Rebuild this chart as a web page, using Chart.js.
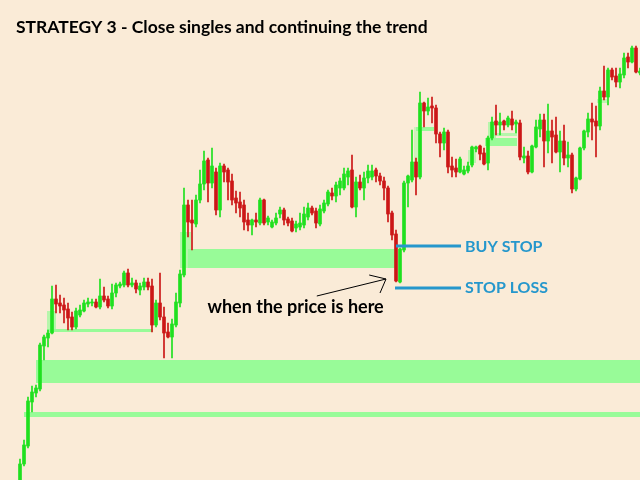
<!DOCTYPE html>
<html>
<head>
<meta charset="utf-8">
<script src="https://cdn.jsdelivr.net/npm/chart.js@4.4.1/dist/chart.umd.min.js"></script>
<style>
  html, body { margin: 0; padding: 0; background: #faebd7; }
  canvas { display: block; }
</style>
</head>
<body>
<canvas id="chart" width="640" height="480"></canvas>
<script>
// candle prices (points), one per bar, left to right
const opens = [-12,16,34,78,87,91,134,142,147,181,177,175,171,163,153,165,169,176,177,178,
  173,184,181,174,187,194,195,207,195,197,190,193,198,194,155,177,163,148,143,155,
  177,205,275,260,256,280,296,320,297,308,270,314,310,299,282,278,275,260,255,260,
  257,280,258,253,257,266,270,261,259,252,253,255,263,272,269,256,269,276,287,284,
  292,292,303,310,273,298,292,302,303,310,304,299,292,267,246,198,230,297,300,318,
  303,377,369,374,372,346,337,348,314,312,308,306,309,315,331,334,327,317,342,359,
  355,359,355,361,356,357,322,324,308,333,351,360,339,349,345,328,339,322,325,291,
  301,332,348,361,359,354,389,383,410,404,398,405,423,418,432,407];
const highs = [21,40,83,94,95,137,145,150,194,195,185,182,177,168,172,175,180,182,181,181,
  201,193,184,196,197,198,209,211,202,200,197,202,202,201,180,207,173,157,161,187,
  210,292,280,280,285,310,329,322,332,312,317,316,312,306,289,288,280,267,261,267,
  282,281,264,260,267,273,272,263,262,259,267,273,277,274,272,275,280,290,292,298,
  302,312,312,325,303,305,308,315,315,312,307,303,294,269,250,232,299,305,350,322,
  388,378,382,383,375,348,352,350,323,321,323,314,318,334,334,335,332,344,363,375,
  367,360,364,369,360,360,333,329,335,360,366,366,376,360,363,349,355,338,327,303,
  333,350,367,377,374,393,414,412,412,412,412,427,427,434,434,412];
const lows = [-15,14,32,68,83,89,120,133,146,167,167,157,150,150,151,163,168,173,174,172,
  171,178,172,171,183,192,193,193,193,187,185,190,190,148,153,160,122,142,122,153,
  173,203,243,230,253,277,290,278,292,265,263,298,280,275,267,263,250,249,245,253,
  255,255,255,252,255,262,255,254,248,248,250,252,260,265,252,254,267,274,280,278,
  285,290,295,272,263,290,280,297,300,298,295,280,258,240,198,197,228,273,298,285,
  301,353,365,357,337,323,330,307,303,303,307,305,307,313,328,320,315,310,340,345,
  345,350,353,350,347,320,317,306,307,332,343,313,327,317,327,308,315,313,287,289,
  300,330,343,340,323,350,380,375,400,393,392,402,412,417,407,405];
const closes = [16,35,79,88,92,135,143,147,181,176,174,170,162,153,169,170,177,178,178,173,
  184,180,174,187,195,196,207,195,197,191,194,198,193,155,177,163,147,143,156,178,
  206,275,258,257,280,296,319,297,314,270,314,308,298,280,277,272,258,255,260,258,
  280,257,262,258,262,270,260,257,249,256,257,266,272,267,257,271,277,288,284,295,
  299,306,309,273,298,292,302,309,309,304,299,292,266,245,199,231,297,304,318,303,
  377,369,373,372,346,337,348,313,310,308,321,310,314,333,333,326,316,342,358,355,
  358,355,362,355,358,323,324,308,334,353,360,339,349,343,328,339,322,325,291,302,
  332,349,361,358,354,389,383,410,403,398,406,422,418,432,408,409];

// shaded supply/demand zones: [start bar, end bar, top price, bottom price, opacity]
const zoneStart  = [4,    1,    6.75, 6.75, 40,   42,   98.5, 99,   112,  116.25, 118,  117,  144.25];
const zoneEnd    = [155,  155,  9,    33.25, 42.75, 93.75, 100.5, 103.5, 114, 124.25, 124.25, 119, 146.75];
const zoneTop    = [120,  68,   169,  151,  248,  231,  353,  353,  330,  342,  347,  358,  381];
const zoneBottom = [97,   63,   148,  148,  212,  212,  303,  349,  317,  334,  344,  334,  377];
const zoneAlpha  = [1,    1,    0.7,  1,    0.7,  1,    0.45, 1,    0.6,  1,    0.7,  0.7,  0.6];

// order levels: [start bar, end bar, price]
const buyStop  = [94, 110.25, 234];
const stopLoss = [93.75, 110.25, 192];

// arrow pointing at the last low: [bar, price] pairs
const arrowShaft = [[74.2, 184], [91.5, 201], [87.3, 205]];
const arrowBarb  = [[91.5, 201], [90, 187]];

const BULL = '#1fe01f';
const BEAR = '#cc1616';
const ZONE = '152, 251, 152';
const BLUE = '#2597cc';

const idx = opens.map((_, i) => i);
const candleColors = idx.map(i => closes[i] >= opens[i] ? BULL : BEAR);

const datasets = [];

zoneStart.forEach((s, k) => {
  datasets.push({
    type: 'line',
    data: [{ x: s, y: zoneTop[k] }, { x: zoneEnd[k], y: zoneTop[k] }],
    borderWidth: 0,
    pointRadius: 0,
    backgroundColor: 'rgba(' + ZONE + ',' + zoneAlpha[k] + ')',
    fill: { value: zoneBottom[k] },
    order: 10
  });
});

datasets.push({
  type: 'bar',
  data: idx.map(i => ({ x: i, y: [lows[i], highs[i]] })),
  backgroundColor: candleColors,
  barThickness: 1,
  grouped: false,
  order: 3
});
datasets.push({
  type: 'bar',
  data: idx.map(i => ({ x: i, y: [Math.min(opens[i], closes[i]), Math.max(opens[i], closes[i])] })),
  backgroundColor: candleColors,
  barThickness: 3,
  minBarLength: 1,
  grouped: false,
  order: 2
});

[buyStop, stopLoss].forEach(lv => {
  datasets.push({
    type: 'line',
    data: [{ x: lv[0], y: lv[2] }, { x: lv[1], y: lv[2] }],
    borderColor: BLUE,
    borderWidth: 3,
    pointRadius: 0,
    order: 1
  });
});

[arrowShaft, arrowBarb].forEach(pts => {
  datasets.push({
    type: 'line',
    data: pts.map(p => ({ x: p[0], y: p[1] })),
    borderColor: '#000000',
    borderWidth: 1,
    pointRadius: 0,
    order: 1
  });
});

const labelsPlugin = {
  id: 'labels',
  beforeDraw(chart) {
    const ctx = chart.ctx;
    ctx.save();
    ctx.fillStyle = '#faebd7';
    ctx.fillRect(0, 0, chart.width, chart.height);
    ctx.restore();
  },
  afterDatasetsDraw(chart) {
    const { ctx, scales: { x, y } } = chart;
    const put = (text, bar, price, size, color, align) => {
      ctx.font = 'bold ' + size + 'px Lato';
      ctx.fillStyle = color;
      ctx.textAlign = align;
      ctx.textBaseline = 'alphabetic';
      ctx.fillText(text, x.getPixelForValue(bar), y.getPixelForValue(price));
    };
    ctx.save();
    put('STRATEGY 3 - Close singles and continuing the trend', -1, 446.7, 17.5, '#000000', 'left');
    put('when the price is here', 68.9, 166.7, 18, '#000000', 'center');
    put('BUY STOP', 111.25, 228.3, 16, BLUE, 'left');
    put('STOP LOSS', 111.25, 187.3, 16, BLUE, 'left');
    ctx.restore();
  }
};

new Chart(document.getElementById('chart'), {
  data: { datasets },
  options: {
    responsive: false,
    animation: false,
    layout: { padding: 0 },
    plugins: { legend: { display: false }, tooltip: { enabled: false } },
    scales: {
      x: { type: 'linear', min: -5, max: 155, offset: false, display: false },
      y: { type: 'linear', min: 0, max: 480, display: false }
    }
  },
  plugins: [labelsPlugin]
});
</script>
</body>
</html>
